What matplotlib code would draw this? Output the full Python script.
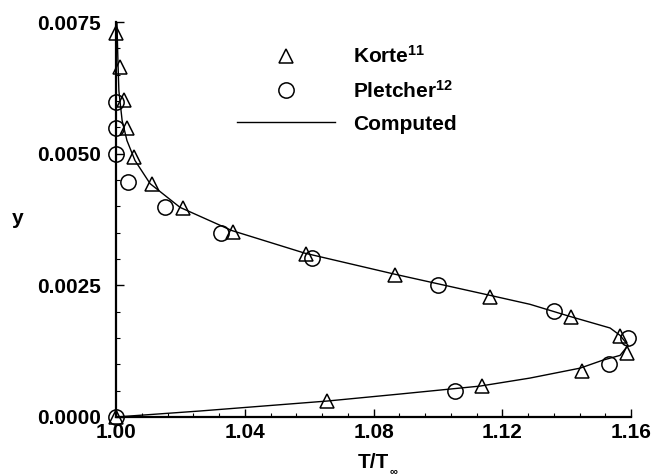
import matplotlib
matplotlib.use("Agg")
import matplotlib.pyplot as plt
from matplotlib.ticker import FixedLocator, MultipleLocator, FixedFormatter

plt.rcParams["font.family"] = ["Liberation Sans", "DejaVu Sans"]
plt.rcParams["font.weight"] = "bold"
plt.rcParams["mathtext.fontset"] = "custom"
plt.rcParams["mathtext.rm"] = "Liberation Sans:bold"
plt.rcParams["mathtext.bf"] = "Liberation Sans:bold"
plt.rcParams["mathtext.it"] = "Liberation Sans:bold"

# Korte measurements (T/T_inf, y)
korte_t = [1.0000, 1.0012, 1.0025, 1.0034, 1.0056, 1.0112, 1.0208, 1.0363,
           1.0590, 1.0867, 1.1162, 1.1414, 1.1566, 1.1588, 1.1448, 1.1137,
           1.0656, 1.0000]
korte_y = [0.00729, 0.00665, 0.00602, 0.00549, 0.00494, 0.00443, 0.00396,
           0.00352, 0.00309, 0.00269, 0.00227, 0.00189, 0.00153, 0.00121,
           0.00087, 0.00059, 0.00030, 0.00000]

# Pletcher measurements
pletcher_t = [1.0000, 1.0000, 1.0000, 1.0037, 1.0152, 1.0326, 1.0609,
              1.1001, 1.1361, 1.1590, 1.1532, 1.1053, 1.0000]
pletcher_y = [0.00598, 0.00549, 0.00500, 0.00447, 0.00398, 0.00350,
              0.00301, 0.00250, 0.00201, 0.00150, 0.00100, 0.00049, 0.00000]

# Computed temperature profile, from the wall outward
computed_t = [1.0000, 1.0261, 1.0656, 1.0882, 1.1131, 1.1286, 1.1442, 1.1513,
              1.1566, 1.1591, 1.1566, 1.1535, 1.1410, 1.1286, 1.1162, 1.0867,
              1.0587, 1.0360, 1.0199, 1.0106, 1.0059, 1.0034, 1.0019, 1.0009,
              1.0006, 1.0003]
computed_y = [0.00000, 0.000114, 0.000303, 0.000436, 0.000587, 0.000739,
              0.000928, 0.00108, 0.00117, 0.00136, 0.00155, 0.00169, 0.00191,
              0.00214, 0.00231, 0.00271, 0.00311, 0.00354, 0.00398, 0.00443,
              0.00487, 0.00525, 0.00563, 0.00619, 0.00676, 0.00748]

x_ticks = [1.00, 1.04, 1.08, 1.12, 1.16]
x_tick_labels = ["1.00", "1.04", "1.08", "1.12", "1.16"]
y_ticks = [0.0, 0.0025, 0.0050, 0.0075]
y_tick_labels = ["0.0000", "0.0025", "0.0050", "0.0075"]

W, H = 654, 475
fig = plt.figure(figsize=(W / 100, H / 100), dpi=100)
ax = fig.add_axes([116 / W, 1 - 417 / H, (631 - 116) / W, (417 - 22) / H])

ax.plot(korte_t, korte_y, linestyle="none", marker="^", markersize=10,
        markerfacecolor="none", markeredgecolor="black", markeredgewidth=1.1,
        clip_on=False, label="Korte$^{11}$", zorder=3)
ax.plot(pletcher_t, pletcher_y, linestyle="none", marker="o", markersize=11,
        markerfacecolor="none", markeredgecolor="black", markeredgewidth=1.1,
        clip_on=False, label="Pletcher$^{12}$", zorder=3)
ax.plot(computed_t, computed_y, color="black", linewidth=1.0,
        clip_on=False, label="Computed", zorder=2)

ax.set_xlim(1.00, 1.16)
ax.set_ylim(0.0, 0.0075)

for side in ("top", "right"):
    ax.spines[side].set_visible(False)
for side in ("left", "bottom"):
    ax.spines[side].set_linewidth(1.6)

ax.xaxis.set_major_locator(FixedLocator(x_ticks))
ax.xaxis.set_major_formatter(FixedFormatter(x_tick_labels))
ax.xaxis.set_minor_locator(MultipleLocator(0.008))
ax.yaxis.set_major_locator(FixedLocator(y_ticks))
ax.yaxis.set_major_formatter(FixedFormatter(y_tick_labels))
ax.yaxis.set_minor_locator(MultipleLocator(0.0005))

ax.tick_params(axis="both", which="major", direction="in", length=6,
               width=1.0, labelsize=15)
ax.tick_params(axis="both", which="minor", direction="in", length=3,
               width=0.8)
ax.tick_params(axis="x", which="major", pad=4)
ax.tick_params(axis="y", which="major", pad=11)
for lab in ax.get_xticklabels() + ax.get_yticklabels():
    lab.set_fontweight("bold")

fig.text(12 / W, 1 - 219 / H, "y", fontsize=15, fontweight="bold",
         ha="left", va="center")
fig.text(373 / W, 1 - 468 / H, "T/T", fontsize=15, fontweight="bold",
         ha="center", va="baseline")
fig.text(390 / W, 1 - 474 / H, "\u221e", fontsize=8, fontweight="bold",
         ha="left", va="baseline")

leg = ax.legend(loc="upper left", bbox_to_anchor=(237 / W, 1 - 45 / H),
                bbox_transform=fig.transFigure, frameon=False,
                fontsize=15, handlelength=4.7, handletextpad=0.85,
                labelspacing=0.62, borderpad=0, borderaxespad=0)

fig.savefig("out.png", dpi=100)
